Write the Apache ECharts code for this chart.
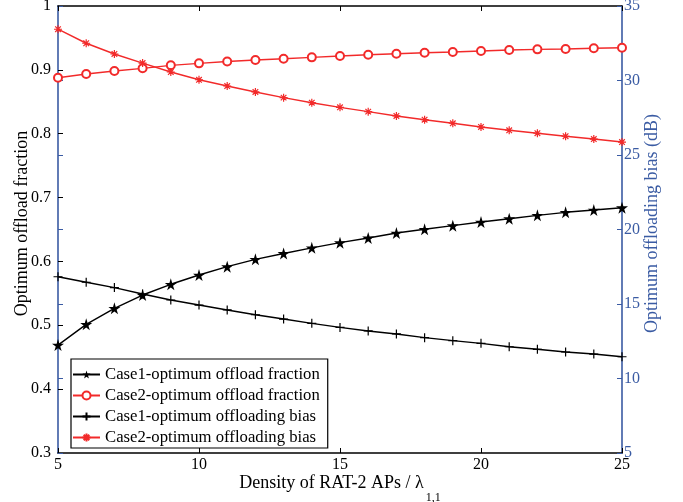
<!DOCTYPE html>
<html>
<head>
<meta charset="utf-8">
<script src="https://cdn.jsdelivr.net/npm/echarts@6/dist/echarts.min.js"></script>
<style>
  html, body { margin: 0; padding: 0; background: #fff; }
  #chart { width: 683px; height: 502px; }
</style>
</head>
<body>
<div id="chart"></div>
<script>
(function() {
    // x values: density of RAT-2 APs
    var density = [5, 6, 7, 8, 9, 10, 11, 12, 13, 14, 15, 16, 17, 18, 19, 20, 21, 22, 23, 24, 25];

    // left axis (fraction)
    var case1Fraction = [0.469, 0.5015, 0.5266, 0.5474, 0.5642, 0.5787, 0.5918, 0.6033, 0.6125, 0.6213, 0.6294,
        0.6367, 0.6445, 0.6503, 0.656, 0.6617, 0.6669, 0.6722, 0.6769, 0.6805, 0.6841];
    var case2Fraction = [0.8877, 0.8935, 0.8982, 0.9024, 0.9071, 0.9102, 0.913, 0.9154, 0.9174, 0.9196, 0.9217,
        0.9237, 0.9253, 0.9268, 0.928, 0.9295, 0.931, 0.9321, 0.9327, 0.9338, 0.9347];

    // right axis (bias, dB)
    var case1Bias = [16.83, 16.46, 16.10, 15.67, 15.27, 14.93, 14.60, 14.28, 13.99, 13.70, 13.43,
        13.19, 12.99, 12.74, 12.54, 12.36, 12.13, 11.96, 11.78, 11.64, 11.46];
    var case2Bias = [33.44, 32.50, 31.78, 31.17, 30.57, 30.05, 29.63, 29.23, 28.85, 28.51, 28.20,
        27.91, 27.62, 27.37, 27.13, 26.88, 26.66, 26.46, 26.26, 26.07, 25.87];

    var names = [
        "Case1-optimum offload fraction",
        "Case2-optimum offload fraction",
        "Case1-optimum offloading bias",
        "Case2-optimum offloading bias"
    ];

    var blue = "#3a5ba3",
        red = "#f22a2a",
        font = "Liberation Serif";

    var starPath = "path://M50,0 L61,35 L98,35 L68,57 L79,91 L50,70 L21,91 L32,57 L2,35 L39,35 Z",
        plusPath = "path://M0,-5L0,5M-5,0L5,0",
        asteriskPath = "path://M0,-5L0,5M-5,0L5,0M-3.5,-3.5L3.5,3.5M-3.5,3.5L3.5,-3.5";

    function pairs(ys) {
        return density.map(function(x, i) {
            return [x, ys[i]];
        });
    }

    var chart = echarts.init(document.getElementById("chart"), null, { renderer: "canvas" });

    var option = {
        animation: false,
        backgroundColor: "#fff",
        grid: {
            left: 58,
            right: 61,
            top: 6,
            bottom: 49,
            containLabel: false,
            outerBoundsMode: "none"
        },
        legend: {
            orient: "vertical",
            left: 71,
            top: 359,
            data: names,
            backgroundColor: "#fff",
            borderColor: "#000",
            borderWidth: 1.2,
            borderRadius: 0,
            padding: [7, 8, 2, 1],
            itemGap: 4,
            itemWidth: 27,
            itemHeight: 10,
            textStyle: {
                fontFamily: font,
                fontSize: 16.7,
                color: "#000",
                lineHeight: 16
            }
        },
        xAxis: [{
            type: "value",
            position: "bottom",
            min: 5,
            max: 25,
            interval: 5,
            name: "{a|Density of RAT-2 APs / λ}{s|1,1}",
            nameLocation: "middle",
            nameMoveOverlap: false,
            nameGap: 21,
            nameTextStyle: {
                rich: {
                    a: { fontFamily: font, fontSize: 18, color: "#000", lineHeight: 20, verticalAlign: "top" },
                    s: { fontFamily: font, fontSize: 12, color: "#000", lineHeight: 30, verticalAlign: "bottom", padding: [0, 0, 0, 2] }
                }
            },
            axisLine: { show: true, lineStyle: { color: "#000", width: 1.6 } },
            axisTick: { show: true, inside: true, length: 5, lineStyle: { color: "#000" } },
            axisLabel: { fontFamily: font, fontSize: 16, color: "#000", margin: 4 },
            splitLine: { show: false }
        }, {
            type: "value",
            position: "top",
            min: 5,
            max: 25,
            interval: 5,
            axisLine: { show: true, lineStyle: { color: "#000", width: 1.6 } },
            axisTick: { show: true, inside: true, length: 5, lineStyle: { color: "#000" } },
            axisLabel: { show: false },
            splitLine: { show: false }
        }],
        yAxis: [{
            type: "value",
            position: "left",
            min: 0.3,
            max: 1,
            interval: 0.1,
            name: "Optimum offload fraction",
            nameLocation: "middle",
            nameRotate: 90,
            nameMoveOverlap: false,
            nameGap: 27,
            nameTextStyle: { fontFamily: font, fontSize: 18, color: "#000", padding: [0, 0, 0, 12] },
            axisLine: { show: true, lineStyle: { color: blue, width: 1.6 } },
            axisTick: { show: true, inside: true, length: 5, lineStyle: { color: "#000" } },
            axisLabel: {
                fontFamily: font,
                fontSize: 16,
                color: "#000",
                margin: 7,
                formatter: function(v) {
                    return v >= 0.999 ? "1" : v.toFixed(1);
                }
            },
            splitLine: { show: false }
        }, {
            type: "value",
            position: "right",
            min: 5,
            max: 35,
            interval: 5,
            name: "Optimum offloading bias (dB)",
            nameLocation: "middle",
            nameRotate: 90,
            nameMoveOverlap: false,
            nameGap: 21,
            nameTextStyle: { fontFamily: font, fontSize: 18, color: blue, padding: [0, 0, 0, 12] },
            axisLine: { show: true, lineStyle: { color: blue, width: 1.6 } },
            axisTick: { show: true, inside: true, length: 5, lineStyle: { color: blue } },
            axisLabel: { fontFamily: font, fontSize: 16, color: blue, margin: 2 },
            splitLine: { show: false }
        }, {
            // blue ticks of the right scale mirrored on the left spine
            type: "value",
            position: "left",
            min: 5,
            max: 35,
            interval: 5,
            axisLine: { show: false },
            axisTick: { show: true, inside: true, length: 5, lineStyle: { color: blue } },
            axisLabel: { show: false },
            splitLine: { show: false }
        }],
        series: [{
            name: names[0],
            type: "line",
            yAxisIndex: 0,
            data: pairs(case1Fraction),
            symbol: starPath,
            symbolSize: 12,
            lineStyle: { color: "#000", width: 1.4 },
            itemStyle: { color: "#000" },
            z: 3
        }, {
            name: names[1],
            type: "line",
            yAxisIndex: 0,
            data: pairs(case2Fraction),
            symbol: "emptyCircle",
            symbolSize: 8,
            lineStyle: { color: red, width: 1.4 },
            itemStyle: { color: red, borderColor: red, borderWidth: 1.4 },
            z: 3
        }, {
            name: names[2],
            type: "line",
            yAxisIndex: 1,
            data: pairs(case1Bias),
            symbol: plusPath,
            symbolSize: 9,
            lineStyle: { color: "#000", width: 1.4 },
            itemStyle: { color: "#000", borderColor: "#000", borderWidth: 1.2 },
            z: 3
        }, {
            name: names[3],
            type: "line",
            yAxisIndex: 1,
            data: pairs(case2Bias),
            symbol: asteriskPath,
            symbolSize: 8,
            lineStyle: { color: red, width: 1.4 },
            itemStyle: { color: red, borderColor: red, borderWidth: 1.2 },
            z: 3
        }]
    };

    chart.setOption(option);
}());
</script>
</body>
</html>
